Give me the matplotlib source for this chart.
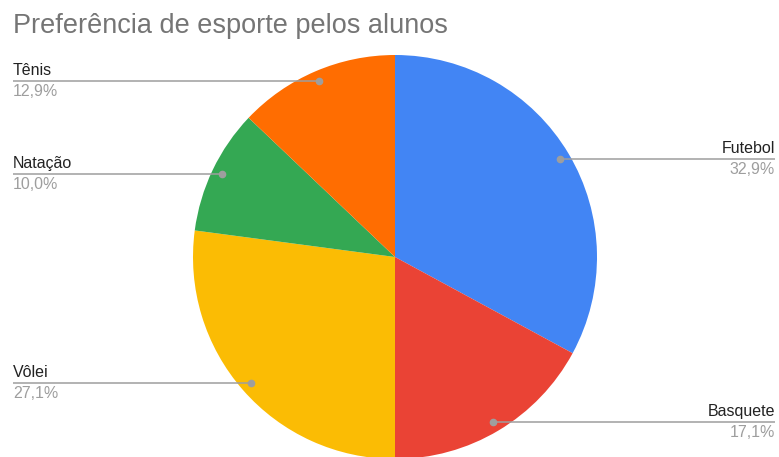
"""Pie chart: Preferência de esporte pelos alunos."""

import matplotlib

matplotlib.use("Agg")
import matplotlib.pyplot as plt
import numpy as np

plt.rcParams["font.family"] = ["Liberation Sans", "DejaVu Sans"]

sports = ["Futebol", "Basquete", "Vôlei", "Natação", "Tênis"]
shares = [32.9, 17.1, 27.1, 10.0, 12.9]
colors = ["#4285F4", "#EA4335", "#FBBC04", "#34A853", "#FF6D01"]
label_side = ["right", "right", "left", "left", "left"]

W, H = 779, 457


def main() -> None:
    fig = plt.figure(figsize=(W / 100, H / 100), dpi=100)
    ax = fig.add_axes([0, 0, 1, 1])

    cx, cy, r = 395, H - 257, 202
    wedges, _ = ax.pie(
        shares, colors=colors, startangle=90, counterclock=False,
        center=(cx, cy), radius=r, frame=True,
        wedgeprops={"linewidth": 0},
    )
    ax.set_xlim(0, W)
    ax.set_ylim(0, H)
    ax.set_aspect("equal")
    ax.axis("off")

    line_c = "#9E9E9E"
    for w, name, val, side in zip(wedges, sports, shares, label_side):
        mid = np.deg2rad((w.theta1 + w.theta2) / 2)
        px = cx + 0.95 * r * np.cos(mid)
        py = cy + 0.95 * r * np.sin(mid)
        x_end = 13 if side == "left" else 775
        ax.plot([px, x_end], [py, py], color=line_c, lw=1.1,
                solid_capstyle="butt", zorder=3)
        ax.plot(px, py, "o", color=line_c, ms=4.5, zorder=4)
        ax.text(x_end, py + 3, name, ha=side, va="bottom",
                fontsize=11.5, color="#222222")
        ax.text(x_end, py - 3, f"{val:.1f}%".replace(".", ","), ha=side,
                va="top", fontsize=11.5, color="#9E9E9E")

    fig.text(13 / W, 1 - 33 / H, "Preferência de esporte pelos alunos",
             ha="left", va="baseline", fontsize=19.5, color="#757575")

    fig.savefig("out.png", dpi=100)
    plt.close(fig)


if __name__ == "__main__":
    main()
